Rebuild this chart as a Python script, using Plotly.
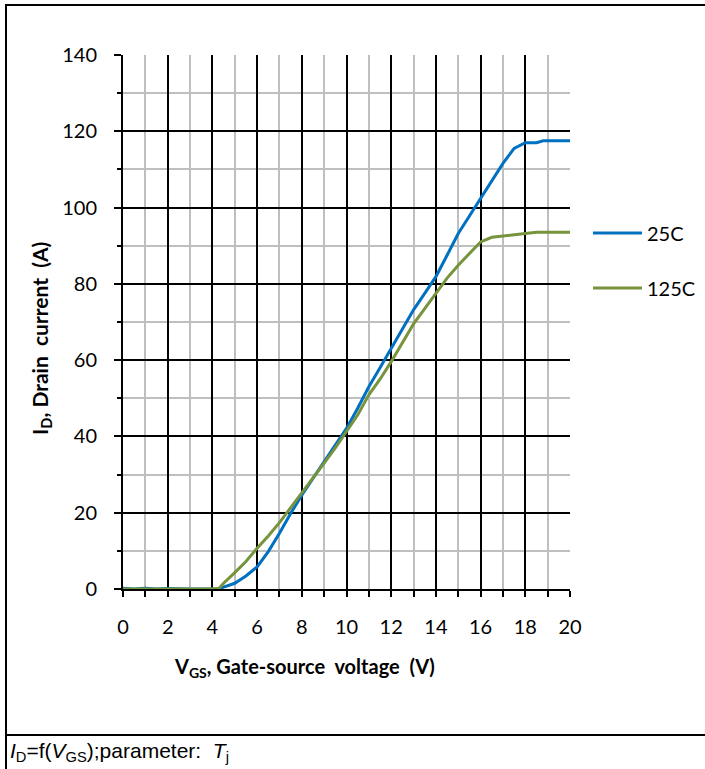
import plotly.graph_objects as go

# ---- data ----
vgs = [0, 0.5, 1, 1.5, 2, 2.5, 3, 3.5, 4, 4.3, 4.5, 5, 5.5, 6, 6.5, 7, 7.5, 8, 8.5, 9, 9.5,
       10, 10.5, 11, 11.5, 12, 12.5, 13, 13.5, 14, 14.5, 15, 15.5, 16, 16.5, 17, 17.5,
       18, 18.5, 18.8, 19, 19.5, 20]
id_25c = [0.2, 0.0, 0.2, 0.0, 0.1, 0.0, 0.0, 0.0, 0.0, 0.0, 0.5, 1.5, 3.4, 5.8, 9.8, 14.6, 19.8,
          24.6, 29.0, 33.4, 37.8, 42.1, 47.4, 53.0, 58.0, 63.1, 68.0, 73.2, 77.5, 81.9, 87.5,
          93.2, 97.8, 102.4, 107.2, 111.6, 115.5, 117.0, 117.0, 117.5, 117.5, 117.5, 117.5]
id_125c = [0.0, 0.0, 0.1, 0.0, 0.1, 0.0, 0.0, 0.0, 0.0, 0.2, 1.5, 4.3, 7.2, 10.7, 13.9, 17.4, 21.3,
           25.0, 28.8, 33.0, 37.0, 41.2, 45.6, 50.9, 55.0, 59.6, 64.5, 69.5, 73.5, 77.5, 81.5,
           84.9, 88.0, 91.0, 92.2, 92.6, 92.8, 93.2, 93.5, 93.5, 93.5, 93.5, 93.5]
series_names = ["25C", "125C"]
series_colors = ["#0070C0", "#77933C"]
x_ticks = list(range(0, 21, 2))
y_ticks = list(range(0, 141, 20))

W, H = 705, 769
L, R, T, B = 123, 570, 55, 589


def px(x):
    return (x - L) / (R - L)


def py(y):
    return (B - y) / (B - T)


fig = go.Figure()
for name, ys, col in zip(series_names, [id_25c, id_125c], series_colors):
    fig.add_trace(go.Scatter(x=vgs, y=ys, mode="lines", name=name,
                             line=dict(color=col, width=3), showlegend=False))

tickfont = dict(family="Lato", size=20, color="black")
fig.update_xaxes(range=[0, 20], tickvals=x_ticks, ticktext=[str(v) for v in x_ticks],
                 showgrid=True, gridcolor="black", gridwidth=2,
                 showline=True, linecolor="black", linewidth=2, zeroline=False,
                 ticks="outside", ticklen=6, tickwidth=2, tickcolor="black",
                 ticklabelstandoff=13, tickfont=tickfont,
                 minor=dict(dtick=1, showgrid=True, gridcolor="#BFBFBF", gridwidth=2,
                            ticks="outside", ticklen=6, tickwidth=2, tickcolor="black"))
fig.update_yaxes(range=[0, 140], tickvals=y_ticks, ticktext=[str(v) for v in y_ticks],
                 showgrid=True, gridcolor="black", gridwidth=2,
                 showline=True, linecolor="black", linewidth=2, zeroline=False,
                 ticks="outside", ticklen=7, tickwidth=2, tickcolor="black",
                 ticklabelstandoff=13, tickfont=tickfont,
                 minor=dict(dtick=10, showgrid=True, gridcolor="#BFBFBF", gridwidth=2,
                            ticks="outside", ticklen=4, tickwidth=2, tickcolor="black"))

shapes = []
# outer frame
shapes.append(dict(type="line", xref="paper", yref="paper", x0=px(6), x1=px(W + 5),
                   y0=py(5), y1=py(5), line=dict(color="black", width=2)))
shapes.append(dict(type="line", xref="paper", yref="paper", x0=px(6), x1=px(6),
                   y0=py(4), y1=py(H + 5), line=dict(color="black", width=2)))
shapes.append(dict(type="line", xref="paper", yref="paper", x0=px(6), x1=px(W + 5),
                   y0=py(735), y1=py(735), line=dict(color="black", width=2)))

annotations = []
# legend (manual)
for i, (name, col) in enumerate(zip(series_names, series_colors)):
    ypx = 233 + 55 * i
    shapes.append(dict(type="line", xref="paper", yref="paper", x0=px(593), x1=px(642),
                       y0=py(ypx), y1=py(ypx), line=dict(color=col, width=3)))
    annotations.append(dict(x=px(645), y=py(ypx), xref="paper", yref="paper", text=name,
                            showarrow=False, xanchor="left", yanchor="middle",
                            font=dict(family="Lato", size=20, color="black")))

# axis titles
annotations.append(dict(x=px(304), y=py(667), xref="paper", yref="paper",
                        text="<b>V<sub>GS</sub>, Gate-source&nbsp; voltage&nbsp; (V)</b>",
                        showarrow=False, xanchor="center", yanchor="middle",
                        font=dict(family="Lato", size=20, color="black")))
annotations.append(dict(x=px(41), y=py(339), xref="paper", yref="paper",
                        text="<b>I<sub>D</sub>, Drain&nbsp; current&nbsp; (A)</b>", textangle=-90,
                        showarrow=False, xanchor="center", yanchor="middle",
                        font=dict(family="Lato", size=21, color="black")))
# caption
annotations.append(dict(x=px(8), y=py(752), xref="paper", yref="paper",
                        text="<i>I</i><sub>D</sub>=f(<i>V</i><sub>GS</sub>);parameter:&nbsp; <i>T</i><sub>j</sub>",
                        showarrow=False, xanchor="left", yanchor="middle",
                        font=dict(family="Liberation Sans", size=21, color="black")))

fig.update_layout(width=W, height=H, margin=dict(l=L, r=W - R, t=T, b=H - B),
                  paper_bgcolor="white", plot_bgcolor="white",
                  shapes=shapes, annotations=annotations, showlegend=False)

fig.write_html("out.html", config={"displayModeBar": False})
